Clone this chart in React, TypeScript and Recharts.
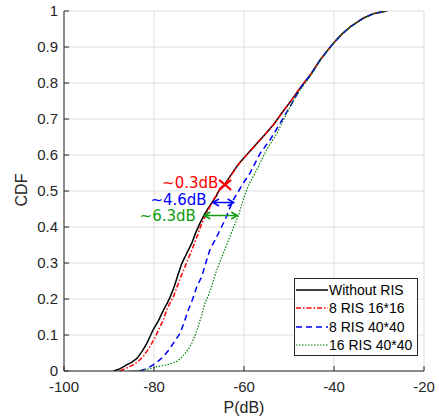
import {
  CartesianGrid,
  Legend,
  Line,
  LineChart,
  ReferenceDot,
  XAxis,
  YAxis,
} from 'recharts';

const FONT = '"Liberation Sans", Arial, Helvetica, sans-serif';
const NOTE_FONT = '"DejaVu Sans", "Liberation Sans", sans-serif';
const AXIS = '#262626';

const X_TICKS = [-100, -80, -60, -40, -20];
const Y_TICKS = [0, 0.1, 0.2, 0.3, 0.4, 0.5, 0.6, 0.7, 0.8, 0.9, 1];

const WITHOUT_RIS: [number, number][] = [
  [-89.0, 0], [-88.0, 0.004], [-87.0, 0.01], [-86.1, 0.017], [-85.0, 0.024],
  [-83.8, 0.035], [-82.6, 0.055], [-81.6, 0.077], [-80.8, 0.098], [-80.2, 0.114],
  [-79.0, 0.14], [-77.9, 0.169], [-77.0, 0.19], [-76.4, 0.206], [-75.5, 0.235],
  [-74.6, 0.27], [-73.8, 0.299], [-72.8, 0.325], [-71.6, 0.355], [-70.7, 0.385],
  [-69.8, 0.41], [-68.8, 0.435], [-67.8, 0.455], [-67.2, 0.466], [-66.2, 0.485],
  [-65.3, 0.507], [-64.2, 0.52], [-63.4, 0.535], [-62.4, 0.554], [-61.2, 0.575],
  [-59.8, 0.595], [-58.6, 0.612], [-57.2, 0.631], [-55.5, 0.655], [-53.5, 0.683],
  [-51.5, 0.718], [-49.4, 0.753], [-47.6, 0.785], [-45.3, 0.822], [-43.1, 0.864],
  [-41.5, 0.89], [-40.2, 0.91], [-38.3, 0.935], [-36.4, 0.956], [-35.0, 0.968],
  [-33.5, 0.98], [-31.3, 0.992], [-29.5, 0.997], [-28.3, 1.0],
];

const RIS_8_16: [number, number][] = [
  [-87.6, 0], [-86.5, 0.006], [-85.5, 0.012], [-84.6, 0.017], [-83.5, 0.027],
  [-82.4, 0.04], [-81.4, 0.058], [-80.5, 0.077], [-79.7, 0.095], [-79.0, 0.114],
  [-78.0, 0.14], [-77.2, 0.169], [-76.4, 0.19], [-75.7, 0.206], [-74.4, 0.25],
  [-73.1, 0.29], [-72.2, 0.318], [-71.3, 0.345], [-70.3, 0.378], [-69.4, 0.41],
  [-68.1, 0.443], [-66.8, 0.475], [-65.6, 0.5], [-64.2, 0.518], [-63.2, 0.537],
  [-62.2, 0.556], [-61.0, 0.577], [-59.7, 0.596], [-58.4, 0.614], [-57.1, 0.632],
  [-55.4, 0.656], [-53.4, 0.685], [-51.4, 0.72], [-49.3, 0.755], [-47.5, 0.787],
  [-45.2, 0.823], [-43.0, 0.865], [-40.1, 0.911], [-38.2, 0.936], [-36.3, 0.957],
  [-33.4, 0.981], [-31.2, 0.993], [-28.3, 1.0],
];

const RIS_8_40: [number, number][] = [
  [-83.1, 0], [-82.0, 0.005], [-81.0, 0.011], [-80.2, 0.017], [-79.0, 0.028],
  [-77.9, 0.04], [-76.8, 0.057], [-75.7, 0.077], [-74.9, 0.092], [-74.2, 0.105],
  [-73.3, 0.135], [-72.4, 0.169], [-71.4, 0.2], [-70.5, 0.234], [-69.4, 0.262],
  [-68.5, 0.3], [-67.6, 0.336], [-66.6, 0.36], [-65.7, 0.382], [-65.0, 0.4],
  [-64.2, 0.42], [-63.3, 0.448], [-62.4, 0.475], [-61.2, 0.5], [-60.0, 0.525],
  [-58.7, 0.549], [-57.5, 0.578], [-56.4, 0.605], [-54.2, 0.642], [-52.0, 0.688],
  [-49.8, 0.734], [-47.2, 0.79], [-45.0, 0.826], [-43.0, 0.865], [-40.1, 0.911],
  [-38.2, 0.936], [-36.3, 0.957], [-33.4, 0.981], [-31.2, 0.993], [-28.2, 1.0],
];

const RIS_16_40: [number, number][] = [
  [-85.5, 0], [-83.0, 0.002], [-80.5, 0.007], [-79.4, 0.012], [-77.2, 0.017],
  [-75.0, 0.026], [-74.0, 0.036], [-73.1, 0.049], [-72.3, 0.062], [-71.6, 0.077],
  [-70.9, 0.098], [-70.2, 0.123], [-69.4, 0.155], [-68.7, 0.188], [-67.9, 0.21],
  [-67.2, 0.234], [-66.4, 0.268], [-65.5, 0.299], [-64.5, 0.33], [-63.4, 0.365],
  [-62.3, 0.4], [-61.3, 0.429], [-60.2, 0.475], [-59.0, 0.516], [-57.2, 0.558],
  [-55.0, 0.614], [-52.7, 0.66], [-50.5, 0.716], [-48.3, 0.767], [-45.3, 0.818],
  [-43.0, 0.864], [-40.1, 0.911], [-38.2, 0.936], [-36.3, 0.957], [-33.4, 0.981],
  [-31.2, 0.993], [-28.2, 1.0],
];

// annotations: gap arrows and their labels
const BLUE_ARROW: [number, number][] = [[-66.9, 0.468], [-62.3, 0.468]];
const GREEN_ARROW: [number, number][] = [[-68.8, 0.432], [-61.5, 0.432]];
const RED_MARK: [number, number] = [-64.2, 0.517];
const NOTES = [
  { text: '~0.3dB', x: -65.7, y: 0.522, color: '#ff0000' },
  { text: '~4.6dB', x: -68.3, y: 0.474, color: '#0000ff' },
  { text: '~6.3dB', x: -70.7, y: 0.43, color: '#109a10' },
];

const toRows = (pts: [number, number][]) => pts.map(([x, y]) => ({ x, y }));

const SERIES = [
  { name: 'Without RIS', points: WITHOUT_RIS, color: '#000000', dash: undefined, width: 1.5 },
  { name: '8 RIS 16*16', points: RIS_8_16, color: '#ff0000', dash: '5 2 1.5 2', width: 1.5 },
  { name: '8 RIS 40*40', points: RIS_8_40, color: '#0000ff', dash: '6 4', width: 1.5 },
  { name: '16 RIS 40*40', points: RIS_16_40, color: '#008000', dash: '1.5 1.5', width: 1.2 },
];

function ArrowHead(props: any) {
  const { cx, cy, index, stroke } = props;
  if (cx == null || cy == null) return null;
  const d = index === 0 ? 6 : -6;
  return (
    <path
      key={`head-${index}`}
      d={`M${cx + d},${cy - 3.5} L${cx},${cy} L${cx + d},${cy + 3.5}`}
      stroke={stroke}
      strokeWidth={1.5}
      fill="none"
    />
  );
}

function LegendBox() {
  return (
    <div
      style={{
        boxSizing: 'border-box',
        width: 124,
        height: 78,
        border: `1px solid ${AXIS}`,
        background: '#fff',
        paddingTop: 2,
        fontFamily: FONT,
      }}
    >
      {SERIES.map((s) => (
        <div key={s.name} style={{ display: 'flex', alignItems: 'center', height: 18.3 }}>
          <svg width={34} height={10} style={{ flex: 'none' }}>
            <line x1={1} x2={33} y1={5} y2={5} stroke={s.color} strokeWidth={s.width} strokeDasharray={s.dash} />
          </svg>
          <span style={{ fontSize: 14, color: '#000', whiteSpace: 'nowrap' }}>{s.name}</span>
        </div>
      ))}
    </div>
  );
}

export default function App() {
  return (
    <div style={{ position: 'absolute', left: 0, top: 0, width: 439, height: 420, background: '#fff', fontFamily: FONT }}>
      <LineChart width={439} height={420} margin={{ top: 11, right: 15, bottom: 0, left: 0 }}>
        <CartesianGrid stroke="#dfdfdf" strokeWidth={1} />
        <XAxis
          type="number"
          dataKey="x"
          domain={[-100, -20]}
          ticks={X_TICKS}
          allowDataOverflow
          height={49}
          stroke={AXIS}
          tickSize={-5}
          tickMargin={15}
          tick={{ fill: AXIS, fontSize: 15, fontFamily: FONT }}
        />
        <XAxis
          xAxisId="top"
          orientation="top"
          type="number"
          domain={[-100, -20]}
          ticks={X_TICKS}
          height={0}
          stroke={AXIS}
          tickSize={-5}
          tick={false}
        />
        <YAxis
          type="number"
          domain={[0, 1]}
          ticks={Y_TICKS}
          allowDataOverflow
          width={64}
          stroke={AXIS}
          tickSize={-5}
          tickMargin={11}
          tickFormatter={(v) => String(v)}
          tick={{ fill: AXIS, fontSize: 15, fontFamily: FONT }}
        />
        <YAxis
          yAxisId="right"
          orientation="right"
          type="number"
          domain={[0, 1]}
          ticks={Y_TICKS}
          width={0}
          stroke={AXIS}
          tickSize={-5}
          tick={false}
        />
        {SERIES.map((s) => (
          <Line
            key={s.name}
            name={s.name}
            data={toRows(s.points)}
            dataKey="y"
            type="linear"
            stroke={s.color}
            strokeWidth={s.width}
            strokeDasharray={s.dash}
            dot={false}
            activeDot={false}
            isAnimationActive={false}
          />
        ))}
        <Line
          data={toRows(BLUE_ARROW)}
          dataKey="y"
          stroke="#0000ff"
          strokeWidth={1.5}
          dot={<ArrowHead />}
          activeDot={false}
          legendType="none"
          isAnimationActive={false}
        />
        <Line
          data={toRows(GREEN_ARROW)}
          dataKey="y"
          stroke="#109a10"
          strokeWidth={1.5}
          dot={<ArrowHead />}
          activeDot={false}
          legendType="none"
          isAnimationActive={false}
        />
        <ReferenceDot
          x={RED_MARK[0]}
          y={RED_MARK[1]}
          r={6}
          shape={(p: any) => (
            <g stroke="#ff0000" strokeWidth={2}>
              <line x1={p.cx - 6} y1={p.cy - 5} x2={p.cx + 6} y2={p.cy + 5} />
              <line x1={p.cx - 6} y1={p.cy + 5} x2={p.cx + 6} y2={p.cy - 5} />
            </g>
          )}
        />
        {NOTES.map((n) => (
          <ReferenceDot
            key={n.text}
            x={n.x}
            y={n.y}
            r={1}
            shape={(p: any) => (
              <text
                x={p.cx}
                y={p.cy}
                textAnchor="end"
                dominantBaseline="central"
                fill={n.color}
                fontSize={15}
                fontFamily={NOTE_FONT}
              >
                {n.text}
              </text>
            )}
          />
        ))}
        <Legend
          layout="vertical"
          align="center"
          verticalAlign="middle"
          content={() => <LegendBox />}
          wrapperStyle={{ left: 294, top: 278, width: 124, height: 78 }}
        />
      </LineChart>
      <div
        style={{
          position: 'absolute',
          left: 244,
          top: 408,
          transform: 'translate(-50%, -50%)',
          fontSize: 16,
          color: AXIS,
          whiteSpace: 'nowrap',
        }}
      >
        P(dB)
      </div>
      <div
        style={{
          position: 'absolute',
          left: 22,
          top: 190,
          transform: 'translate(-50%, -50%) rotate(-90deg)',
          fontSize: 16,
          color: AXIS,
          whiteSpace: 'nowrap',
        }}
      >
        CDF
      </div>
    </div>
  );
}
